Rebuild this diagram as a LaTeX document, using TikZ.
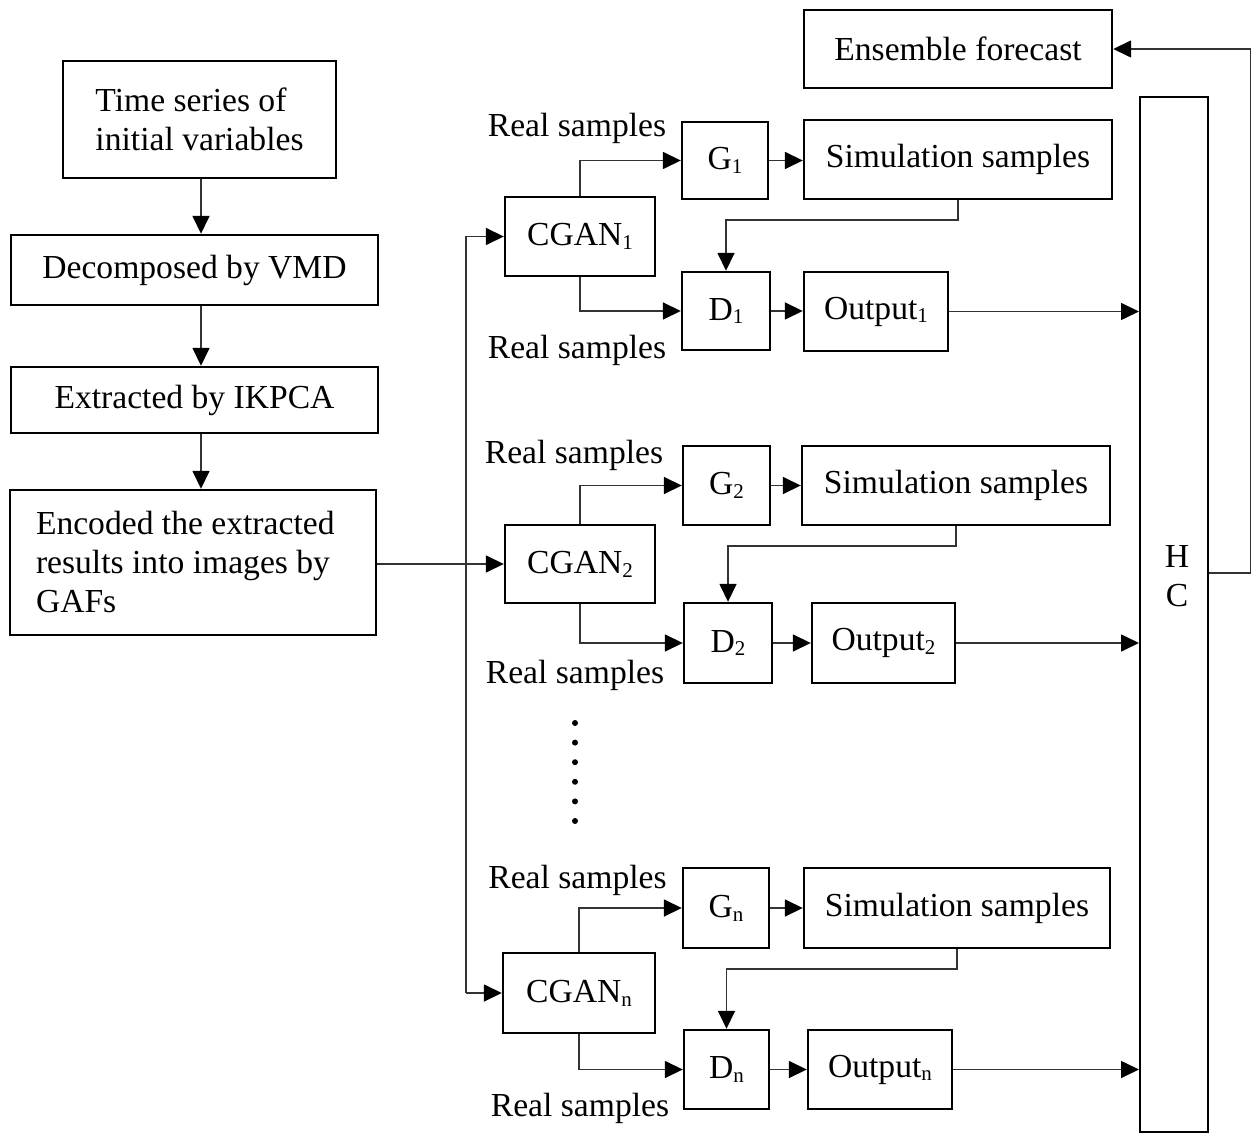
\documentclass[tikz,border=0pt]{standalone}
\usepackage{fontspec}
\setmainfont{Liberation Serif}
\usetikzlibrary{arrows.meta}

% subscript index set small and close to the baseline
\newcommand{\ix}[1]{\raisebox{-0.25ex}{\fontsize{10.5}{12}\selectfont #1}}

\begin{document}
\begin{tikzpicture}[x=0.5pt,y=-0.5pt,
  box/.style={draw, line width=1.2pt, rectangle, inner sep=0pt,
    font=\fontsize{16.8}{19.5}\selectfont, align=center},
  lbl/.style={inner sep=0pt, font=\fontsize{16.8}{19.5}\selectfont},
  conn/.style={line width=0.8pt, draw=black!80},
  arr/.style={conn, -{Triangle[length=9pt,width=8.5pt,color=black]}}]

\useasboundingbox (0,0) rectangle (1252,1133);

% ---- left column: preprocessing chain ----
\node[box, minimum width=136.5pt, minimum height=58.5pt, align=left] (ts) at (199.5,119.5)
  {Time series of\\initial variables};
\node[box, minimum width=183.5pt, minimum height=35pt] (vmd) at (194.5,270) {Decomposed by VMD};
\node[box, minimum width=183.5pt, minimum height=33pt] (ik) at (194.5,400) {Extracted by IKPCA};
\node[box, minimum width=183pt, minimum height=72.5pt, align=flush left, text width=157pt, inner xsep=13pt] (enc) at (193,562.5)
  {Encoded the extracted\\results into images by\\GAFs};

\coordinate (lx) at (201,0);
\draw[arr] (lx |- ts.south) -- (lx |- vmd.north);
\draw[arr] (lx |- vmd.south) -- (lx |- ik.north);
\draw[arr] (lx |- ik.south) -- (lx |- enc.north);

% ---- ensemble and HC ----
\node[box, minimum width=154pt, minimum height=39pt] (ens) at (958,49) {Ensemble forecast};
\node[box, minimum width=34pt, minimum height=517.5pt, line width=1pt] (hc) at (1174,614.5) {};
\node[lbl, align=center] (hclabel) at (1177,576) {H\\C};

% ---- branch 1 ----
\node[box, minimum width=75pt, minimum height=39.5pt] (cg1) at (580,236.5) {CGAN\ix{1}};
\node[box, minimum width=43pt, minimum height=38.5pt] (g1) at (725,160.5) {G\ix{1}};
\node[box, minimum width=154pt, minimum height=39.5pt] (sim1) at (958,159.5) {Simulation samples};
\node[box, minimum width=44pt, minimum height=39pt] (d1) at (726,311) {D\ix{1}};
\node[box, minimum width=72pt, minimum height=39.5pt] (out1) at (876,311.5) {Output\ix{1}};
\node[lbl] (rs1a) at (577,128) {Real samples};
\node[lbl] (rs1b) at (577,350) {Real samples};

% ---- branch 2 ----
\node[box, minimum width=75pt, minimum height=39pt] (cg2) at (580,564) {CGAN\ix{2}};
\node[box, minimum width=43.5pt, minimum height=39.5pt] (g2) at (726.5,485.5) {G\ix{2}};
\node[box, minimum width=154pt, minimum height=39.5pt] (sim2) at (956,485.5) {Simulation samples};
\node[box, minimum width=44pt, minimum height=40pt] (d2) at (728,643) {D\ix{2}};
\node[box, minimum width=71.5pt, minimum height=40pt] (out2) at (883.5,643) {Output\ix{2}};
\node[lbl] (rs2a) at (574,455) {Real samples};
\node[lbl] (rs2b) at (575,675) {Real samples};

% ---- branch n ----
\node[box, minimum width=76pt, minimum height=40pt] (cgn) at (579,993) {CGAN\ix{n}};
\node[box, minimum width=43pt, minimum height=40pt] (gn) at (726,908) {G\ix{n}};
\node[box, minimum width=153pt, minimum height=40pt] (simn) at (957,908) {Simulation samples};
\node[box, minimum width=42.5pt, minimum height=39.5pt] (dn) at (726.5,1069.5) {D\ix{n}};
\node[box, minimum width=72pt, minimum height=39.5pt] (outn) at (880,1069.5) {Output\ix{n}};
\node[lbl] (rsna) at (577.5,880) {Real samples};
\node[lbl] (rsnb) at (580,1108) {Real samples};

% ---- ellipsis between branches ----
\foreach \yy in {723,742.6,762.2,781.8,801.4,821}
  \fill (575,\yy) circle (1.5pt);

% ---- distribution bus into the CGANs ----
\coordinate (bx) at (466,0);
\draw[arr] (bx |- cgn.west) -- (bx |- cg1.west) -- (cg1.west);
\draw[arr] (bx |- cgn.west) -- (cgn.west);
\draw[arr] (enc.east |- cg2.west) -- (cg2.west);

% ---- branch wiring ----
\foreach \k in {1,2,n} {
  \draw[arr] (cg\k.north) |- (g\k.west);
  \draw[arr] (cg\k.south) |- (d\k.west);
  \draw[arr] (g\k.east) -- (sim\k.west |- g\k.east);
  \draw[arr] (sim\k.south) -- ++(0,20) -| (d\k.north);
  \draw[arr] (d\k.east) -- (out\k.west |- d\k.east);
  \draw[arr] (out\k.east) -- (out\k.east -| hc.west);
}

% ---- feedback from HC to the ensemble forecast ----
\coordinate (fb) at (1250.5,573);
\draw[arr] (hc.east |- fb) -- (fb) |- (ens.east);

\end{tikzpicture}
\end{document}
